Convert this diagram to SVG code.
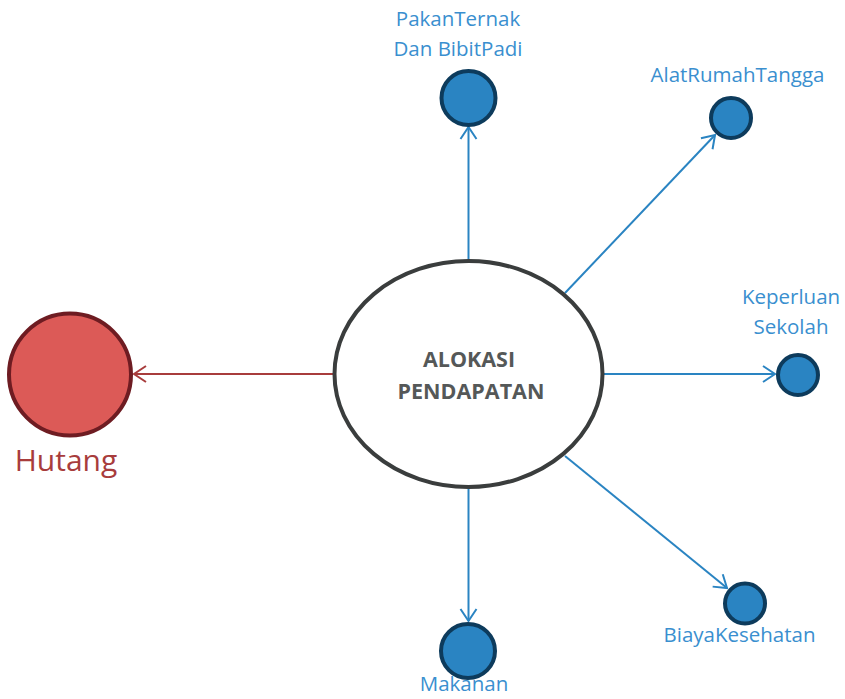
<svg xmlns="http://www.w3.org/2000/svg" width="845" height="699" viewBox="0 0 845 699">
<style>
.lbl{font-family:"Open Sans","Liberation Sans",sans-serif;font-size:20.5px;fill:#3a8fcf;text-anchor:middle}
.leaf{fill:#2a84c2;stroke:#0d3b5c;stroke-width:4}
.edge{fill:none;stroke:#2a84c2;stroke-width:2}
.edge-red{fill:none;stroke:#a83c3c;stroke-width:2}
.ctr{font-family:"Open Sans","Liberation Sans",sans-serif;font-size:21.5px;font-weight:bold;fill:#555858;text-anchor:middle}
</style>
<defs>
<marker id="ab" markerUnits="userSpaceOnUse" markerWidth="20" markerHeight="20" refX="14" refY="10" orient="auto">
<path d="M2,2 L14,10 L2,18" fill="none" stroke="#2a84c2" stroke-width="2"/>
</marker>
<marker id="ar" markerUnits="userSpaceOnUse" markerWidth="20" markerHeight="20" refX="14" refY="10" orient="auto">
<path d="M2,2 L14,10 L2,18" fill="none" stroke="#a83c3c" stroke-width="2"/>
</marker>
</defs>
<g id="edges">
<line class="edge" x1="468.5" y1="259" x2="468.5" y2="127" marker-end="url(#ab)"/>
<line class="edge" x1="565" y1="293" x2="715" y2="135" marker-end="url(#ab)"/>
<line class="edge" x1="604" y1="374" x2="775" y2="374" marker-end="url(#ab)"/>
<line class="edge" x1="565" y1="456" x2="727" y2="588" marker-end="url(#ab)"/>
<line class="edge" x1="468.5" y1="489" x2="468.5" y2="621" marker-end="url(#ab)"/>
<line class="edge-red" x1="333" y1="374" x2="134" y2="374" marker-end="url(#ar)"/>
</g>
<g id="center">
<ellipse cx="468.5" cy="374" rx="134" ry="113" fill="#ffffff" stroke="#3a3d3d" stroke-width="4"/>
<text class="ctr" x="469" y="367">ALOKASI</text>
<text class="ctr" x="471" y="399">PENDAPATAN</text>
</g>
<g id="pakan">
<circle class="leaf" cx="468.5" cy="98" r="27"/>
<text class="lbl" x="458" y="26">PakanTernak</text>
<text class="lbl" x="458" y="56">Dan BibitPadi</text>
</g>
<g id="alat">
<circle class="leaf" cx="731" cy="118" r="20"/>
<text class="lbl" x="737.5" y="82">AlatRumahTangga</text>
</g>
<g id="keperluan">
<circle class="leaf" cx="798" cy="375" r="20"/>
<text class="lbl" x="791" y="304">Keperluan</text>
<text class="lbl" x="791" y="334">Sekolah</text>
</g>
<g id="biaya">
<circle class="leaf" cx="745" cy="603.5" r="20"/>
<text class="lbl" x="739.5" y="642">BiayaKesehatan</text>
</g>
<g id="makanan">
<circle class="leaf" cx="468" cy="651" r="27"/>
<text class="lbl" x="464" y="691">Makanan</text>
</g>
<g id="hutang">
<circle cx="70" cy="374.5" r="61" fill="#dc5a57" stroke="#6e1c22" stroke-width="4"/>
<text x="66" y="471" font-family="'Open Sans','Liberation Sans',sans-serif" font-size="30" fill="#a83c3c" text-anchor="middle">Hutang</text>
</g>
</svg>
